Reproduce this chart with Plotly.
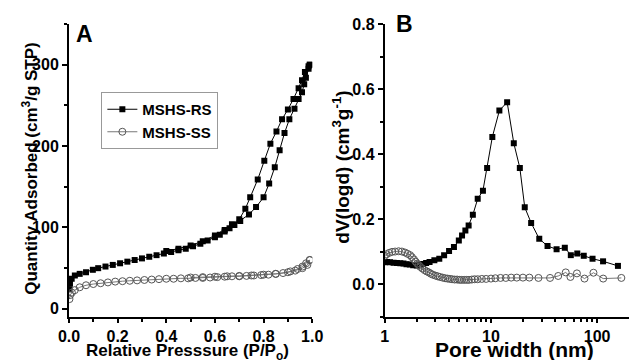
import plotly.graph_objects as go

# ---------- Panel A: N2 isotherms ----------
rs_ads_p = [0.002, 0.004, 0.011, 0.024, 0.044, 0.07, 0.098, 0.12, 0.15, 0.18, 0.21, 0.24, 0.27, 0.30, 0.33,
            0.36, 0.39, 0.42, 0.45, 0.48, 0.51, 0.54, 0.57, 0.60, 0.62, 0.64, 0.66, 0.68, 0.704, 0.74,
            0.769, 0.80, 0.823, 0.846, 0.866, 0.886, 0.906, 0.927, 0.944, 0.958, 0.967, 0.974, 0.985, 0.99]
rs_ads_q = [24, 31, 37, 41, 43, 45, 48, 50, 52, 54, 56, 58, 60, 62, 64,
            66, 68, 70, 72, 74, 77, 80, 84, 88, 91, 95, 99, 103, 108, 116,
            125, 137, 154, 174, 195, 216, 233, 246, 258, 266, 276, 284, 295, 300]
rs_des_p = [0.99, 0.985, 0.97, 0.958, 0.944, 0.923, 0.9, 0.876, 0.853, 0.828, 0.803, 0.776, 0.745, 0.725,
            0.70, 0.67, 0.64, 0.60, 0.55, 0.50, 0.45, 0.40]
rs_des_q = [300, 298, 291, 281, 271, 258, 245, 233, 218, 203, 182, 159, 137, 123,
            110, 104, 97, 90, 83, 78, 74, 71]

ss_ads_p = [0.002, 0.005, 0.012, 0.024, 0.044, 0.07, 0.1, 0.13, 0.16, 0.19, 0.22, 0.25, 0.28, 0.31, 0.34,
            0.37, 0.40, 0.43, 0.46, 0.49, 0.52, 0.55, 0.58, 0.61, 0.64, 0.67, 0.70, 0.73, 0.76, 0.79,
            0.82, 0.85, 0.88, 0.91, 0.94, 0.96, 0.975, 0.99]
ss_ads_q = [12, 17, 20, 23, 26.5, 29, 30.5, 31.5, 32.5, 33.5, 34, 34.5, 35, 35.5, 36,
            36.5, 37, 37, 37.5, 37.5, 38, 38, 38.5, 39, 39.5, 40, 40, 40.5, 41, 41.5,
            42, 43, 44, 46, 49, 52, 56, 60]
ss_des_p = [0.99, 0.98, 0.96, 0.93, 0.9, 0.85, 0.8, 0.75, 0.7, 0.65, 0.6, 0.55, 0.5]
ss_des_q = [60, 54, 50, 47, 45, 43, 42, 41, 40.5, 40, 39.5, 39, 38.5]

# ---------- Panel B: pore size distribution ----------
rs_d = [1.0, 1.05, 1.12, 1.21, 1.3, 1.4, 1.5, 1.6, 1.72, 1.85, 2.0, 2.13, 2.29, 2.45, 2.64,
        2.93, 3.26, 3.62, 4.03, 4.48, 4.98, 5.34, 5.74, 6.16, 6.75, 7.5, 8.4, 9.2, 10.3, 12.0,
        14.2, 16.4, 18.7, 20.8, 23.9, 28.5, 34.1, 41.5, 49.6, 56.5, 65, 74.8, 90.5, 113.7, 157]
rs_v = [0.068, 0.069, 0.068, 0.067, 0.066, 0.065, 0.064, 0.062, 0.061, 0.059, 0.058, 0.061, 0.063, 0.066, 0.069,
        0.074, 0.079, 0.09, 0.103, 0.115, 0.135, 0.15, 0.166, 0.181, 0.214, 0.263, 0.288, 0.358, 0.453, 0.534,
        0.56, 0.434, 0.358, 0.237, 0.189, 0.14, 0.118, 0.108, 0.113, 0.09, 0.095, 0.088, 0.079, 0.071, 0.057]
ss_d = [1.0, 1.04, 1.1, 1.17, 1.25, 1.35, 1.45, 1.55, 1.64, 1.73, 1.8, 1.88, 1.95, 2.02, 2.09,
        2.16, 2.26, 2.37, 2.48, 2.6, 2.71, 2.83, 3.0, 3.15, 3.3, 3.5, 3.7, 3.9, 4.1, 4.3,
        4.55, 4.8, 5.05, 5.3, 5.6, 5.9, 6.2, 6.6, 7.0, 7.5, 8.2, 9.0, 10, 11, 12.3,
        13.8, 15.5, 17.5, 20, 23, 28, 36, 43, 50.6, 56, 64.5, 76, 92.3, 114, 169]
ss_v = [0.088, 0.093, 0.097, 0.1, 0.101, 0.102, 0.101, 0.098, 0.094, 0.09, 0.084, 0.077, 0.07, 0.064, 0.059,
        0.054, 0.049, 0.044, 0.04, 0.037, 0.033, 0.03, 0.027, 0.025, 0.023, 0.021, 0.019, 0.018, 0.017, 0.016,
        0.015, 0.015, 0.014, 0.014, 0.014, 0.014, 0.014, 0.015, 0.016, 0.016, 0.017, 0.017, 0.018, 0.019, 0.02,
        0.02, 0.021, 0.021, 0.021, 0.021, 0.02, 0.02, 0.026, 0.037, 0.023, 0.034, 0.018, 0.036, 0.018, 0.02]

assert len(rs_ads_p) == len(rs_ads_q) and len(rs_des_p) == len(rs_des_q)
assert len(ss_ads_p) == len(ss_ads_q) and len(ss_des_p) == len(ss_des_q)
assert len(rs_d) == len(rs_v) and len(ss_d) == len(ss_v)

FONT = "Liberation Sans, Arial, sans-serif"
RS_MARK = dict(symbol="square", size=6, color="black")
SS_MARK = dict(symbol="circle-open", size=7, color="#555555", line=dict(width=1))

fig = go.Figure()
fig.add_trace(go.Scatter(x=rs_ads_p + rs_des_p, y=rs_ads_q + rs_des_q, mode="lines+markers",
                         name="MSHS-RS", line=dict(color="black", width=1), marker=RS_MARK,
                         xaxis="x", yaxis="y"))
fig.add_trace(go.Scatter(x=ss_ads_p + ss_des_p, y=ss_ads_q + ss_des_q, mode="lines+markers",
                         name="MSHS-SS", line=dict(color="#777777", width=1), marker=SS_MARK,
                         xaxis="x", yaxis="y"))
fig.add_trace(go.Scatter(x=rs_d, y=rs_v, mode="lines+markers", showlegend=False,
                         line=dict(color="black", width=1), marker=RS_MARK,
                         xaxis="x2", yaxis="y2"))
fig.add_trace(go.Scatter(x=ss_d, y=ss_v, mode="lines+markers", showlegend=False,
                         line=dict(color="#777777", width=1), marker=SS_MARK,
                         xaxis="x2", yaxis="y2"))

axis_common = dict(showline=True, linecolor="black", linewidth=2, mirror=False, showgrid=False,
                   zeroline=False, ticks="outside", ticklen=5, tickwidth=1.5, tickcolor="black",
                   tickfont=dict(family=FONT, size=16, color="black", weight="bold"))
xaxis_common = dict(axis_common, ticklen=4)
minor_common = dict(ticks="outside", ticklen=3, tickwidth=1.5, tickcolor="black", showgrid=False)

L, R, T, B = 69, 0, 24, 43
W, H = 640, 360
pw = W - L - R
dA = [0, (317 - L) / pw]
dB = [(391 - L) / pw, 1.0]

fig.update_layout(
    width=W, height=H, margin=dict(l=L, r=R, t=T, b=B),
    paper_bgcolor="white", plot_bgcolor="white",
    font=dict(family=FONT, color="black"),
    xaxis=dict(domain=dA, range=[0, 1.0], dtick=0.2, tickformat=".1f", anchor="y",
               minor=dict(dtick=0.1, **minor_common), **xaxis_common),
    yaxis=dict(domain=[0, 1], range=[-10, 350], dtick=100, anchor="x",
               minor=dict(dtick=50, **minor_common), **axis_common),
    xaxis2=dict(domain=dB, type="log", range=[0, 2.3], tickvals=[1, 10, 100], anchor="y2",
                minor=dict(dtick="D1", **minor_common), **xaxis_common),
    yaxis2=dict(domain=[0, 1], range=[-0.1, 0.8], dtick=0.2, tickformat=".1f", anchor="x2",
                minor=dict(dtick=0.1, **minor_common), **axis_common),
    legend=dict(x=(102 - L) / pw, y=1 - (92 - T) / (H - T - B), xanchor="left", yanchor="top",
                bgcolor="white", bordercolor="#999999", borderwidth=1,
                font=dict(family=FONT, size=15, color="black", weight="bold"),
                tracegroupgap=0, itemwidth=30),
    showlegend=True,
)

def pann(text, x, y, size, angle=0):
    fig.add_annotation(text=text, xref="paper", yref="paper",
                       x=(x - L) / pw, y=1 - (y - T) / (H - T - B),
                       showarrow=False, textangle=angle, xanchor="center", yanchor="middle",
                       font=dict(family=FONT, size=size, color="black", weight="bold"))

pann("A", 85, 34, 23)
pann("B", 411, 24, 23)
pann("Quantity Adsorbed (cm<sup>3</sup>/g STP)", 29, 168, 17, -90)
pann("dV(logd) (cm<sup>3</sup>g<sup>-1</sup>)", 346, 167, 19, -90)
pann("Relative Presssure (P/P<sub>o</sub>)", 190, 352, 17)
pann("Pore width (nm)", 523, 349, 21)

fig.write_html("out.html", config={"displayModeBar": False},
               post_script="document.body.style.margin='0';document.body.style.overflow='hidden';")
